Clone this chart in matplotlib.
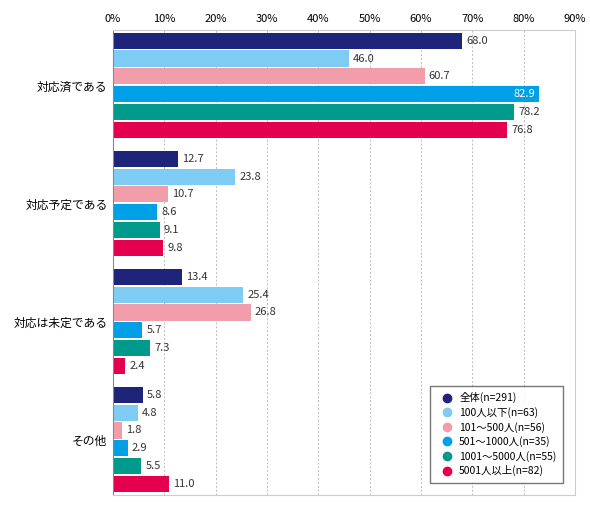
import matplotlib.pyplot as plt
from matplotlib.lines import Line2D

plt.rcParams['font.family'] = ['Noto Sans CJK JP', 'DejaVu Sans']

# data
categories = ['対応済である', '対応予定である', '対応は未定である', 'その他']
series = ['全体(n=291)', '100人以下(n=63)', '101～500人(n=56)',
          '501～1000人(n=35)', '1001～5000人(n=55)', '5001人以上(n=82)']
values = [
    [68.0, 12.7, 13.4, 5.8],
    [46.0, 23.8, 25.4, 4.8],
    [60.7, 10.7, 26.8, 1.8],
    [82.9, 8.6, 5.7, 2.9],
    [78.2, 9.1, 7.3, 5.5],
    [76.8, 9.8, 2.4, 11.0],
]
colors = ['#1e2479', '#7ecbf3', '#f29eaa', '#00a0e6', '#009a8c', '#e4004f']

fig = plt.figure(figsize=(5.9, 5.16), dpi=100)
ax = fig.add_axes([0.1915, 0.041, 0.783, 0.901])

step = 6.6
for j, (s, vals, c) in enumerate(zip(series, values, colors)):
    for i, v in enumerate(vals):
        y = i * step + j
        ax.barh(y, v, height=0.9, color=c)
        if v > 80:
            ax.text(v - 0.6, y, f'{v:.1f}', va='center', ha='right', fontsize=8, color='white')
        else:
            ax.text(v + 0.8, y, f'{v:.1f}', va='center', ha='left', fontsize=8, color='#333333')

ax.set_ylim(3 * step + 5.6, -0.6)
ax.set_xlim(0, 90)
ax.set_yticks([i * step + 2.5 for i in range(len(categories))])
ax.set_yticklabels(categories, fontsize=8.5)
ax.set_xticks(range(0, 91, 10))
ax.set_xticklabels([f'{t}%' for t in range(0, 91, 10)], fontsize=8)
ax.xaxis.tick_top()
ax.tick_params(length=0, pad=4)
ax.xaxis.grid(True, linestyle=(0, (2, 2)), color='#bbbbbb', linewidth=0.7)
ax.set_axisbelow(True)
for sp in ['top', 'bottom', 'right']:
    ax.spines[sp].set_color('#cccccc')
ax.spines['left'].set_color('#888888')

handles = [Line2D([], [], marker='o', linestyle='', color=c, markersize=6) for c in colors]
ax.legend(handles, series, loc='lower right', fontsize=7.5, frameon=True,
          edgecolor='#555555', fancybox=False, handletextpad=0.2,
          borderpad=0.6, labelspacing=0.35, bbox_to_anchor=(0.985, 0.015))

fig.savefig('out.png', dpi=100)
